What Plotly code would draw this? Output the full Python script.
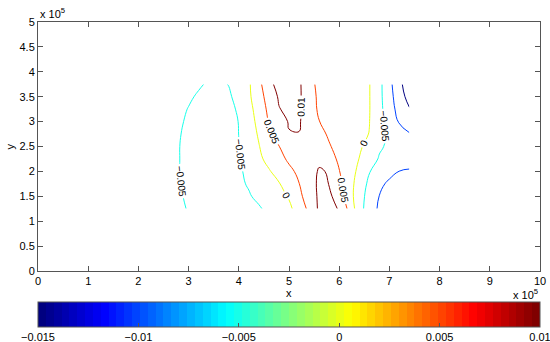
import plotly.graph_objects as go

# grid of the field (x and y in units of 1e5)
x_nodes = [2.6, 2.8, 3.0, 3.2, 3.4, 3.6, 3.8, 4.0, 4.2, 4.4, 4.6, 4.8, 5.0,
           5.2, 5.4, 5.6, 5.8, 6.0, 6.2, 6.4, 6.6, 6.8, 7.0, 7.2, 7.4]
y_nodes = [1.25, 1.5, 1.75, 2.0, 2.25, 2.5, 2.75, 3.0, 3.25, 3.5, 3.75]

# field values, one row per y node (bottom to top)
z_y125 = [-0.0038, -0.0044, -0.0052, -0.0059, -0.0064, -0.0066, -0.0065, -0.0062, -0.0058, -0.0055, -0.0039, -0.0023, -0.0010,
          0.0021, 0.0061, 0.0108, 0.0113, 0.0097, 0.0037, -0.0032, -0.0074, -0.0108, -0.0123, -0.0133, -0.0140]
z_y150 = [-0.0040, -0.0046, -0.0055, -0.0061, -0.0066, -0.0067, -0.0065, -0.0060, -0.0054, -0.0040, -0.0026, -0.0013, 0.0004,
          0.0039, 0.0072, 0.0108, 0.0110, 0.0075, 0.0021, -0.0030, -0.0068, -0.0101, -0.0118, -0.0128, -0.0135]
z_y175 = [-0.0042, -0.0048, -0.0056, -0.0063, -0.0068, -0.0069, -0.0066, -0.0058, -0.0046, -0.0031, -0.0017, -0.0003, 0.0022,
          0.0049, 0.0079, 0.0108, 0.0099, 0.0062, 0.0020, -0.0023, -0.0060, -0.0088, -0.0110, -0.0120, -0.0127]
z_y200 = [-0.0043, -0.0049, -0.0057, -0.0064, -0.0070, -0.0071, -0.0068, -0.0057, -0.0039, -0.0021, -0.0004, 0.0017, 0.0039,
          0.0060, 0.0081, 0.0104, 0.0097, 0.0052, 0.0021, -0.0011, -0.0048, -0.0066, -0.0084, -0.0101, -0.0105]
z_y225 = [-0.0043, -0.0049, -0.0057, -0.0065, -0.0071, -0.0072, -0.0068, -0.0053, -0.0031, -0.0009, 0.0013, 0.0035, 0.0058,
          0.0074, 0.0085, 0.0091, 0.0080, 0.0037, 0.0021, -0.0001, -0.0028, -0.0054, -0.0061, -0.0070, -0.0079]
z_y250 = [-0.0042, -0.0049, -0.0057, -0.0065, -0.0072, -0.0073, -0.0068, -0.0052, -0.0027, -0.0002, 0.0024, 0.0049, 0.0067,
          0.0077, 0.0078, 0.0068, 0.0053, 0.0038, 0.0022, 0.0007, -0.0015, -0.0044, -0.0058, -0.0071, -0.0084]
z_y275 = [-0.0041, -0.0048, -0.0056, -0.0064, -0.0071, -0.0072, -0.0066, -0.00495, -0.0023, 0.0005, 0.0040, 0.0072, 0.0098,
          0.0099, 0.0079, 0.0061, 0.0045, 0.0034, 0.0022, 0.0010, -0.0001, -0.0033, -0.0059, -0.0078, -0.0097]
z_y300 = [-0.0039, -0.0046, -0.0054, -0.0062, -0.0069, -0.0070, -0.0063, -0.0049, -0.0020, 0.0013, 0.0053, 0.0081, 0.0103,
          0.0104, 0.0078, 0.0051, 0.0036, 0.0028, 0.0020, 0.0011, 0.0001, -0.0035, -0.0070, -0.0105, -0.0125]
z_y325 = [-0.0037, -0.0044, -0.0051, -0.0059, -0.0065, -0.0066, -0.0062, -0.0044, -0.0015, 0.0021, 0.0061, 0.0098, 0.0110,
          0.0106, 0.0077, 0.0042, 0.0033, 0.0027, 0.0020, 0.0010, 0.0002, -0.0035, -0.0079, -0.0117, -0.0147]
z_y350 = [-0.0034, -0.0040, -0.00465, -0.0053, -0.0059, -0.0060, -0.0055, -0.0038, -0.0008, 0.0029, 0.0071, 0.0105, 0.0111,
          0.0107, 0.0074, 0.0040, 0.0032, 0.0026, 0.0019, 0.0010, 0.0002, -0.0037, -0.0083, -0.0127, -0.0169]
z_y375 = [-0.0030, -0.0036, -0.0042, -0.0047, -0.0053, -0.0056, -0.0049, -0.0028, -0.0006, 0.0035, 0.0090, 0.0112, 0.0114,
          0.0108, 0.0066, 0.0038, 0.0031, 0.0026, 0.0020, 0.0010, 0.0002, -0.0037, -0.0086, -0.0138, -0.0180]

z_rows = [z_y125, z_y150, z_y175, z_y200, z_y225, z_y250, z_y275, z_y300, z_y325, z_y350, z_y375]

# contour levels and colour limits
level_start = -0.015
level_end = 0.01
level_step = 0.005
cbar_range = [-0.015, 0.01]
cbar_tickvals = [-0.015, -0.01, -0.005, 0, 0.005, 0.01]
cbar_ticktext = ['\u22120.015', '\u22120.01', '\u22120.005', '0', '0.005', '0.01']


# MATLAB-like jet(64) as a stepped colorscale
def jet_scale(n=64):
    def clip(v):
        return min(max(v, 0.0), 1.0)
    scale = []
    for i in range(n):
        t = i / (n - 1)
        r = clip(1.5 - abs(4 * t - 3))
        g = clip(1.5 - abs(4 * t - 2))
        b = clip(1.5 - abs(4 * t - 1))
        c = 'rgb(%d,%d,%d)' % (round(r * 255), round(g * 255), round(b * 255))
        scale.append([i / n, c])
        scale.append([(i + 1) / n, c])
    return scale


jet = jet_scale()
axis_col = '#555555'

fig = go.Figure()

fig.add_trace(go.Contour(
    x=x_nodes, y=y_nodes, z=z_rows,
    zmin=cbar_range[0], zmax=cbar_range[1],
    colorscale=jet,
    autocontour=False,
    contours=dict(start=level_start, end=level_end, size=level_step,
                  coloring='lines', showlabels=True,
                  labelfont=dict(size=10, color='black'),
                  labelformat='.3~f'),
    line=dict(width=1, smoothing=1.3),
    showscale=False,
    hoverinfo='skip'
))

# invisible trace that only carries the horizontal colorbar
fig.add_trace(go.Scatter(
    x=[0, 0], y=[-1, -1], mode='markers',
    marker=dict(color=cbar_range, colorscale=jet,
                cmin=cbar_range[0], cmax=cbar_range[1] + 1e-8,
                size=1, opacity=0, showscale=True,
                colorbar=dict(orientation='h', thickness=25, len=1, lenmode='fraction',
                              x=0.5, xanchor='center', y=-0.1245, yanchor='top',
                              xpad=0, ypad=0, outlinewidth=1, outlinecolor=axis_col,
                              tickmode='array', tickvals=cbar_tickvals, ticktext=cbar_ticktext,
                              ticklabeloverflow='allow',
                              ticks='inside', ticklen=4, tickcolor=axis_col,
                              tickfont=dict(size=11, color='black'))),
    showlegend=False, hoverinfo='skip'
))

fig.update_layout(
    width=550, height=342,
    margin=dict(l=38, r=10, t=22, b=71, autoexpand=False),
    plot_bgcolor='white', paper_bgcolor='white',
    font=dict(family='Liberation Sans, Arial, sans-serif', size=11, color='black'),
    showlegend=False,
    xaxis=dict(range=[0, 10], tickmode='linear', tick0=0, dtick=1,
               ticks='inside', ticklen=5, tickcolor=axis_col,
               showline=True, linecolor=axis_col, linewidth=1, mirror='ticks',
               showgrid=False, zeroline=False),
    yaxis=dict(range=[0, 5], tickmode='linear', tick0=0, dtick=0.5,
               ticks='inside', ticklen=5, tickcolor=axis_col,
               showline=True, linecolor=axis_col, linewidth=1, mirror='ticks',
               showgrid=False, zeroline=False),
    annotations=[
        dict(text='x', x=0.5, y=-0.09, xref='paper', yref='paper',
             xanchor='center', yanchor='middle', showarrow=False, font=dict(size=11)),
        dict(text='y', x=-0.056, y=0.5, xref='paper', yref='paper', textangle=-90,
             xanchor='center', yanchor='middle', showarrow=False, font=dict(size=11)),
        dict(text='x 10<sup>5</sup>', x=0, y=1, xref='paper', yref='paper',
             xanchor='left', yanchor='bottom', showarrow=False, font=dict(size=11)),
        dict(text='x 10<sup>5</sup>', x=1, y=-0.13, xref='paper', yref='paper',
             xanchor='right', yanchor='bottom', showarrow=False, font=dict(size=11)),
    ]
)

# the page body has a default 8px margin; drop it so the figure sits at the corner
fig.write_html("out.html", config={'displayModeBar': False},
               post_script="document.body.style.margin='0';")
